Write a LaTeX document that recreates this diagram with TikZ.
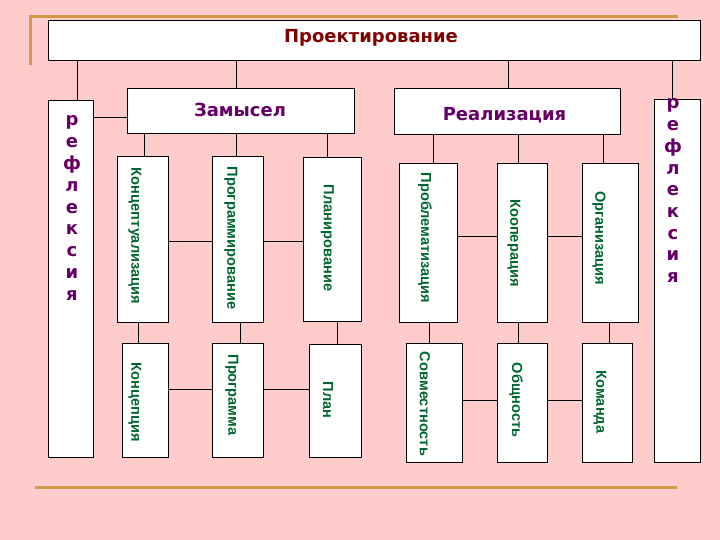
\documentclass[tikz,border=0pt]{standalone}
\usepackage{fontspec}
\setmainfont{DejaVu Sans}
\newfontfamily\greenfont{Liberation Sans}
\definecolor{bg}{HTML}{FFCCCC}
\definecolor{orangeline}{HTML}{D29A48}
\definecolor{titlered}{HTML}{800000}
\definecolor{purp}{HTML}{660066}
\definecolor{grn}{HTML}{006633}
\tikzset{
  box/.style={draw=black, fill=white, line width=1.1pt, inner sep=0pt, anchor=north west},
  conn/.style={draw=black, line width=1.1pt},
  gtext/.style={inner sep=0pt, rotate=-90, text=grn, font=\greenfont\bfseries\fontsize{14.6}{16}\selectfont},
  htext/.style={inner sep=0pt, anchor=base, font=\bfseries\fontsize{18}{20}\selectfont},
  rtext/.style={inner sep=0pt, anchor=base, text=purp, font=\bfseries\fontsize{18}{20}\selectfont}
}
\begin{document}
\begin{tikzpicture}[x=1pt,y=-1pt]
\useasboundingbox (0,0) rectangle (720,540);
\fill[bg] (0,0) rectangle (720,540);
% decorative orange lines
\draw[orangeline, line width=3pt] (30,65) -- (30,17) -- (678,17);
\draw[orangeline, line width=3pt] (35,487) -- (677,487);
% boxes
\node[box, minimum width=652pt, minimum height=40pt] (top) at (48,20) {};
\node[box, minimum width=45pt, minimum height=357pt] (reflL) at (48,100) {};
\node[box, minimum width=46pt, minimum height=363pt] (reflR) at (654,99) {};
\node[box, minimum width=227pt, minimum height=45pt] (zam) at (127,88) {};
\node[box, minimum width=226pt, minimum height=46pt] (real) at (394,88) {};
\node[box, minimum width=51pt, minimum height=166pt] (konc1) at (117,156) {};
\node[box, minimum width=51pt, minimum height=166pt] (prog1) at (212,156) {};
\node[box, minimum width=58pt, minimum height=164pt] (plan1) at (303,157) {};
\node[box, minimum width=58pt, minimum height=159pt] (probl) at (399,163) {};
\node[box, minimum width=50pt, minimum height=159pt] (koop) at (497,163) {};
\node[box, minimum width=56pt, minimum height=159pt] (org) at (582,163) {};
\node[box, minimum width=46pt, minimum height=114pt] (konc2) at (122,343) {};
\node[box, minimum width=51pt, minimum height=114pt] (prog2) at (212,343) {};
\node[box, minimum width=52pt, minimum height=113pt] (plan2) at (309,344) {};
\node[box, minimum width=56pt, minimum height=119pt] (sovm) at (406,343) {};
\node[box, minimum width=50pt, minimum height=119pt] (obsh) at (497,343) {};
\node[box, minimum width=50pt, minimum height=119pt] (kom) at (582,343) {};
% connectors from top
\draw[conn] ([xshift=6.5pt]reflL.north) -- ([xshift=6.5pt]reflL.north |- top.south);
\draw[conn] ([xshift=-4.5pt]zam.north) -- ([xshift=-4.5pt]zam.north |- top.south);
\draw[conn] ([xshift=1pt]real.north) -- ([xshift=1pt]real.north |- top.south);
\draw[conn] ([xshift=-5pt]reflR.north) -- ([xshift=-5pt]reflR.north |- top.south);
\draw[conn] ([yshift=-6.5pt]zam.west) -- ([yshift=-6.5pt]zam.west -| reflL.east);
% Zamysel children
\draw[conn] ([xshift=1.5pt]konc1.north) -- ([xshift=1.5pt]konc1.north |- zam.south);
\draw[conn] ([xshift=-1.5pt]prog1.north) -- ([xshift=-1.5pt]prog1.north |- zam.south);
\draw[conn] ([xshift=-5pt]plan1.north) -- ([xshift=-5pt]plan1.north |- zam.south);
% Realizatsiya children
\draw[conn] ([xshift=5pt]probl.north) -- ([xshift=5pt]probl.north |- real.south);
\draw[conn] ([xshift=-4pt]koop.north) -- ([xshift=-4pt]koop.north |- real.south);
\draw[conn] ([xshift=-7pt]org.north) -- ([xshift=-7pt]org.north |- real.south);
% horizontal links, top row
\draw[conn] ([yshift=-2pt]konc1.east) -- ([yshift=-2pt]konc1.east -| prog1.west);
\draw[conn] ([yshift=-2pt]prog1.east) -- ([yshift=-2pt]prog1.east -| plan1.west);
\draw[conn] ([yshift=6.5pt]probl.east) -- ([yshift=6.5pt]probl.east -| koop.west);
\draw[conn] ([yshift=6.5pt]koop.east) -- ([yshift=6.5pt]koop.east -| org.west);
% vertical links to bottom row
\draw[conn] ([xshift=-7pt]konc2.north) -- ([xshift=-7pt]konc2.north |- konc1.south);
\draw[conn] ([xshift=2.5pt]prog2.north) -- ([xshift=2.5pt]prog2.north |- prog1.south);
\draw[conn] ([xshift=2pt]plan2.north) -- ([xshift=2pt]plan2.north |- plan1.south);
\draw[conn] ([xshift=-5pt]sovm.north) -- ([xshift=-5pt]sovm.north |- probl.south);
\draw[conn] ([xshift=-4pt]obsh.north) -- ([xshift=-4pt]obsh.north |- koop.south);
\draw[conn] ([xshift=2pt]kom.north) -- ([xshift=2pt]kom.north |- org.south);
% horizontal links, bottom row
\draw[conn] ([yshift=11pt]konc2.east) -- ([yshift=11pt]konc2.east -| prog2.west);
\draw[conn] ([yshift=11pt]prog2.east) -- ([yshift=11pt]prog2.east -| plan2.west);
\draw[conn] ([yshift=2.5pt]sovm.east) -- ([yshift=2.5pt]sovm.east -| obsh.west);
\draw[conn] ([yshift=2.5pt]obsh.east) -- ([yshift=2.5pt]obsh.east -| kom.west);
% headings
\node[htext, text=titlered] (ttop) at (371,43) {Проектирование};
\node[htext, text=purp] (tzam) at (240,117) {Замысел};
\node[htext, text=purp] (treal) at (504.5,121) {Реализация};
% рефлексия, vertical letters
\foreach \l [count=\i from 0] in {р,е,ф,л,е,к,с,и,я} {
  \node[rtext] (rl\i) at (72,126+21.8*\i) {\l};
  \node[rtext] (rr\i) at (673,109+21.7*\i) {\l};
}
% green rotated texts
\node[gtext] (g1) at (135,236) {Концептуализация};
\node[gtext] (g2) at (231,238) {Программирование};
\node[gtext] (g3) at (327.5,238) {Планирование};
\node[gtext] (g4) at (425,238) {Проблематизация};
\node[gtext] (g5) at (514,243) {Кооперация};
\node[gtext] (g6) at (599,238) {Организация};
\node[gtext] (g7) at (135,402) {Концепция};
\node[gtext] (g8) at (232,395) {Программа};
\node[gtext] (g9) at (328,400) {План};
\node[gtext] (g10) at (425,404) {Совместность};
\node[gtext] (g11) at (516,400) {Общность};
\node[gtext] (g12) at (600,402) {Команда};
\end{tikzpicture}
\end{document}
